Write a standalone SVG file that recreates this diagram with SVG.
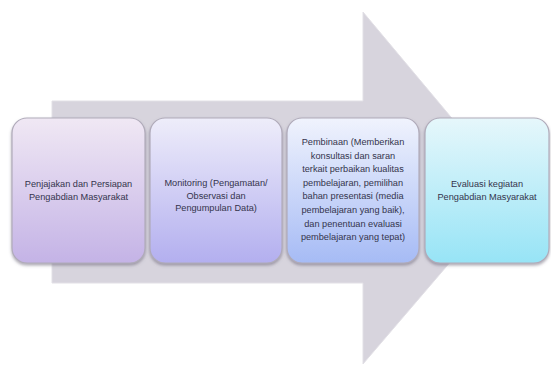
<svg xmlns="http://www.w3.org/2000/svg" width="551" height="365" viewBox="0 0 551 365">
<defs>
<linearGradient id="g1" x1="0" y1="0" x2="0" y2="1"><stop offset="0" stop-color="#f0e8f4"/><stop offset="1" stop-color="#c4b3e6"/></linearGradient>
<linearGradient id="g2" x1="0" y1="0" x2="0" y2="1"><stop offset="0" stop-color="#eeedfa"/><stop offset="1" stop-color="#b3afef"/></linearGradient>
<linearGradient id="g3" x1="0" y1="0" x2="0" y2="1"><stop offset="0" stop-color="#f0f3fd"/><stop offset="1" stop-color="#a6bbf5"/></linearGradient>
<linearGradient id="g4" x1="0" y1="0" x2="0" y2="1"><stop offset="0" stop-color="#e6f7fb"/><stop offset="1" stop-color="#97e4f6"/></linearGradient>
<filter id="sh" x="-10%" y="-10%" width="120%" height="125%"><feDropShadow dx="0" dy="2" stdDeviation="1.5" flood-color="#6a6478" flood-opacity="0.55"/></filter>
</defs>
<style>
.box{stroke:#b0abba;stroke-width:1.2;filter:url(#sh)}
.t{font-family:"Liberation Sans",Arial,sans-serif;font-size:9.2px;fill:#34344c;text-anchor:middle}
</style>
<rect width="551" height="365" fill="#ffffff"/>
<g id="arrow">
<polygon points="52,101 363,101 363,12 512,190 363,364 363,283 52,283" fill="#d7d4dd" stroke="#e2e0e6" stroke-width="1"/>
</g>
<g id="connectors"></g>
<g id="n1">
<rect class="box" x="12" y="118" width="133" height="145" rx="15" fill="url(#g1)"/>
<text class="t" x="78.5" y="187">Penjajakan dan Persiapan</text>
<text class="t" x="78.5" y="200">Pengabdian Masyarakat</text>
</g>
<g id="n2">
<rect class="box" x="150" y="118" width="132" height="145" rx="15" fill="url(#g2)"/>
<text class="t" x="216" y="186">Monitoring (Pengamatan/</text>
<text class="t" x="216" y="198.5">Observasi dan</text>
<text class="t" x="216" y="211">Pengumpulan Data)</text>
</g>
<g id="n3">
<rect class="box" x="287" y="118" width="132" height="145" rx="15" fill="url(#g3)"/>
<text class="t" x="353" y="145">Pembinaan (Memberikan</text>
<text class="t" x="353" y="158.6">konsultasi dan saran</text>
<text class="t" x="353" y="172.2">terkait perbaikan kualitas</text>
<text class="t" x="353" y="185.8">pembelajaran, pemilihan</text>
<text class="t" x="353" y="199.4">bahan presentasi (media</text>
<text class="t" x="353" y="213">pembelajaran yang baik),</text>
<text class="t" x="353" y="226.6">dan penentuan evaluasi</text>
<text class="t" x="353" y="240.2">pembelajaran yang tepat)</text>
</g>
<g id="n4">
<rect class="box" x="425" y="118" width="124" height="145" rx="15" fill="url(#g4)"/>
<text class="t" x="487" y="187">Evaluasi kegiatan</text>
<text class="t" x="487" y="200">Pengabdian Masyarakat</text>
</g>
</svg>
